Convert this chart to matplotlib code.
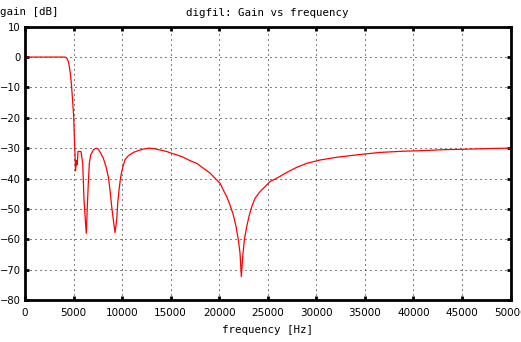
import matplotlib
matplotlib.use("Agg")
import matplotlib.pyplot as plt

# frequency response of the digital filter (Hz, dB)
freq_hz = [0, 4120, 4295, 4460, 4563, 4666, 4738, 4810, 4872, 4944, 5016, 5047,
           5078, 5119, 5150, 5202, 5305, 5377, 5459, 5768, 5943, 6077, 6211, 6314,
           6417, 6520, 6623, 6767, 7035, 7313, 7550, 7797, 8065, 8343, 8580, 8755,
           8930, 9095, 9270, 9445, 9548, 9682, 9857, 10063, 10300, 10640, 11155,
           11670, 12185, 12772, 13390, 13905, 14595, 15110, 15625, 16305, 16995,
           17685, 18365, 19055, 19570, 20085, 20425, 20775, 21115, 21455, 21733,
           21970, 22145, 22279, 22423, 22588, 22835, 23103, 23350, 23690, 24205,
           24720, 25235, 25925, 26955, 27985, 29015, 30385, 32105, 34165, 36565,
           38965, 41025, 43085, 45835, 47895, 50000]
gain_db = [0, 0, -0.3, -1.4, -3.1, -5.3, -7.5, -10.2, -13, -16.3, -19.6, -22.9,
           -26.2, -29.5, -31.6, -37.5, -34.0, -35.5, -31.1, -31.1, -35, -47, -53.6, -58,
           -49.3, -41.5, -35, -32.2, -30.6, -30.0, -30.3, -31.7, -33.3, -36.1, -39.4, -43.8,
           -49.3, -53.6, -57.8, -53.6, -48.1, -43.8, -39.4, -36.3, -33.8, -32.5, -31.4,
           -30.8, -30.3, -30.0, -30.2, -30.6, -31.1, -31.7, -32.2, -33, -34.1,
           -35, -36.6, -38.2, -39.9, -41.5, -43.8, -46, -48.7, -52, -55.8,
           -60.2, -64.6, -72.3, -65.7, -60.2, -55.8, -52, -49.3, -46.5, -44.3,
           -42.7, -41, -39.9, -38, -36.3, -35, -33.9, -33, -32.2, -31.4,
           -31, -30.8, -30.5, -30.3, -30.1, -30]

x_ticks = list(range(0, 50001, 5000))
y_ticks = list(range(-80, 11, 10))

plt.rcParams['lines.scale_dashes'] = False

fig = plt.figure(figsize=(5.21, 3.42), dpi=100)
ax = fig.add_axes([25 / 521, 1 - 300 / 342, 485.5 / 521, 273.3 / 342])

ax.plot(freq_hz, gain_db, color="red", linewidth=0.9)

ax.set_xlim(0, 50000)
ax.set_ylim(-80, 10)
ax.set_xticks(x_ticks)
ax.set_yticks(y_ticks)
ax.grid(True, color="black", linestyle=(0, (0.72, 2.88)), linewidth=0.72)

for sp in ax.spines.values():
    sp.set_linewidth(2)
ax.tick_params(direction="in", length=3, width=2, top=True, right=True,
               labelsize=7.5)
ax.tick_params(axis="x", pad=6)
ax.tick_params(axis="y", pad=3, labelsize=7.2)

mono = "DejaVu Sans Mono"
ax.set_title("digfil: Gain vs frequency", fontsize=7.8, family=mono, pad=8)
fig.text(0, 1 - 12 / 342, "gain [dB]", fontsize=7.8, family=mono, va="center", ha="left")
ax.set_xlabel("frequency [Hz]", fontsize=7.8, family=mono, labelpad=5)

fig.savefig("out.png", dpi=100)
